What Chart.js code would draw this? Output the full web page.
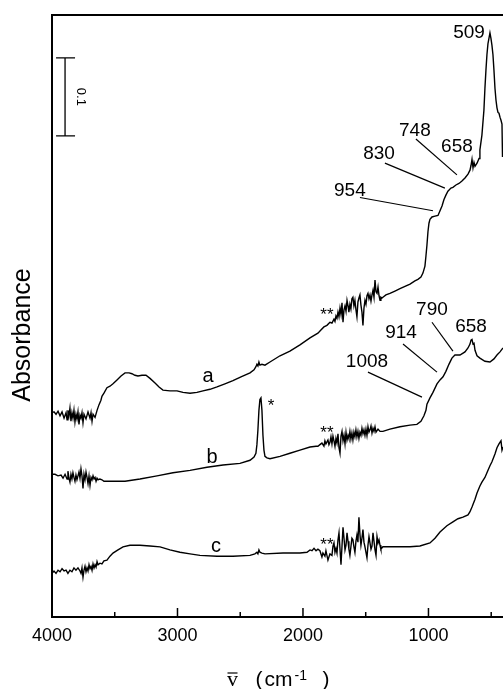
<!DOCTYPE html>
<html>
<head>
<meta charset="utf-8">
<script src="https://cdn.jsdelivr.net/npm/chart.js@4.4.1/dist/chart.umd.min.js"></script>
<style>
  html, body { margin: 0; padding: 0; background: #fff; }
</style>
</head>
<body>
<canvas id="grafico" width="503" height="689"></canvas>
<script>
// Eixo x: número de onda (cm-1), escala invertida
const xTicks = [4000, 3500, 3000, 2500, 2000, 1500, 1000, 500];
const xTickLabels = ['4000', '', '3000', '', '2000', '', '1000', ''];

// Espectro a
const waveA = [4000,3984,3968,3952,3936,3920,3904,3888,3880,3873,3865,3857,3849,3841,3833,3825,3817,3809,3801,3793,3785,3777,3769,3761,3753,3745,3729,3713,3697,3689,3681,3673,3657,3641,3626,3610,3602,3586,3562,3538,3514,3482,3450,3418,3386,3363,3339,3315,3283,3251,3219,3179,3147,3116,3060,3004,2956,2900,2845,2797,2741,2685,2622,2558,2494,2422,2390,2375,2367,2359,2351,2343,2327,2303,2263,2183,2104,2024,1944,1881,1857,1833,1809,1785,1769,1753,1745,1737,1729,1721,1713,1705,1697,1689,1681,1673,1665,1657,1649,1641,1634,1626,1618,1610,1602,1594,1586,1578,1570,1562,1554,1546,1538,1530,1522,1514,1506,1498,1490,1482,1474,1466,1458,1450,1442,1434,1426,1418,1410,1402,1394,1386,1379,1371,1363,1339,1307,1267,1227,1187,1147,1108,1084,1060,1044,1028,1020,1012,1004,996,988,972,948,924,908,892,877,861,845,821,805,781,757,733,709,685,669,661,653,645,637,629,613,597,590,574,558,550,542,534,526,518,510,502,494,486,478,470,462,454,446,438,430,422,414,410];
const absA = [.262,.263,.260,.264,.258,.263,.255,.262,.253,.265,.258,.268,.251,.262,.255,.265,.250,.260,.254,.263,.247,.259,.255,.262,.249,.260,.254,.263,.255,.262,.251,.260,.256,.265,.272,.278,.283,.287,.294,.296,.299,.304,.309,.313,.313,.312,.310,.309,.310,.310,.306,.300,.295,.291,.290,.290,.288,.287,.288,.290,.292,.295,.299,.303,.308,.313,.317,.321,.324,.322,.327,.323,.324,.323,.327,.335,.341,.349,.358,.364,.368,.372,.374,.378,.377,.382,.379,.386,.383,.391,.385,.396,.388,.403,.378,.394,.399,.392,.406,.399,.391,.401,.395,.408,.410,.399,.406,.394,.385,.404,.409,.413,.400,.391,.374,.396,.406,.401,.412,.415,.408,.413,.405,.413,.419,.410,.432,.417,.415,.423,.412,.406,.410,.409,.410,.413,.415,.418,.421,.424,.427,.431,.433,.436,.441,.450,.463,.477,.494,.505,.510,.513,.514,.515,.521,.527,.535,.541,.546,.550,.551,.554,.556,.559,.563,.568,.573,.579,.587,.576,.583,.578,.582,.588,.599,.618,.650,.678,.701,.721,.735,.742,.749,.742,.733,.721,.701,.678,.663,.653,.647,.646,.641,.637,.632,.590];

// Espectro b
const waveB = [4000,3976,3952,3928,3912,3896,3880,3873,3865,3857,3849,3841,3833,3825,3817,3809,3801,3793,3785,3777,3769,3761,3753,3745,3737,3729,3721,3713,3705,3697,3689,3681,3673,3665,3657,3649,3641,3633,3618,3602,3586,3562,3498,3418,3299,3163,3036,2900,2765,2637,2502,2422,2390,2375,2367,2359,2351,2343,2335,2327,2319,2311,2303,2287,2263,2183,2104,2024,1944,1896,1881,1865,1849,1833,1825,1817,1801,1793,1785,1777,1769,1761,1753,1745,1737,1729,1721,1713,1705,1697,1689,1681,1673,1665,1657,1649,1641,1634,1626,1618,1610,1602,1594,1586,1578,1570,1562,1554,1546,1538,1530,1522,1514,1506,1498,1490,1482,1474,1466,1458,1450,1442,1434,1426,1418,1402,1386,1363,1307,1227,1147,1092,1060,1036,1020,1012,988,964,932,908,884,861,837,813,789,749,709,685,669,661,653,645,637,629,613,590,550,510,478,454,430,406];
const absB = [.183,.183,.181,.182,.178,.183,.177,.187,.178,.173,.183,.177,.185,.179,.174,.182,.176,.181,.186,.178,.190,.181,.165,.183,.176,.186,.179,.171,.181,.169,.179,.176,.181,.177,.179,.174,.178,.176,.177,.176,.174,.174,.174,.174,.177,.181,.185,.188,.192,.195,.197,.201,.205,.210,.221,.240,.265,.279,.281,.265,.233,.214,.206,.204,.203,.206,.210,.214,.218,.219,.219,.221,.223,.219,.226,.222,.227,.221,.224,.231,.222,.232,.226,.219,.229,.223,.235,.217,.210,.232,.238,.226,.233,.222,.237,.227,.233,.229,.238,.228,.236,.227,.237,.231,.240,.231,.238,.229,.237,.233,.242,.235,.240,.233,.241,.233,.244,.237,.240,.245,.236,.242,.238,.244,.237,.241,.238,.238,.241,.244,.246,.247,.251,.258,.265,.273,.281,.288,.299,.304,.308,.315,.324,.332,.336,.336,.340,.345,.350,.355,.356,.350,.351,.342,.335,.332,.328,.327,.331,.336,.340,.345];

// Espectro c
const waveC = [4000,3984,3968,3952,3936,3920,3904,3888,3873,3857,3841,3825,3809,3793,3777,3769,3761,3753,3745,3737,3729,3721,3713,3705,3697,3689,3681,3673,3665,3657,3649,3641,3633,3618,3602,3586,3562,3538,3514,3474,3434,3379,3299,3219,3139,3060,2980,2900,2821,2685,2558,2422,2383,2367,2359,2351,2343,2327,2303,2159,2024,1968,1944,1928,1912,1896,1881,1865,1849,1841,1825,1817,1801,1785,1769,1761,1753,1745,1737,1729,1721,1713,1705,1697,1689,1681,1673,1665,1657,1649,1641,1634,1626,1618,1610,1602,1594,1586,1578,1570,1562,1554,1546,1538,1530,1522,1514,1506,1498,1490,1482,1474,1466,1458,1450,1442,1434,1426,1418,1410,1402,1394,1386,1379,1363,1307,1227,1147,1068,988,948,908,853,805,765,725,685,669,653,629,613,590,574,550,534,510,494,470,454,438,422,414,406];
const absC = [.056,.059,.056,.060,.058,.062,.059,.060,.056,.060,.058,.063,.060,.063,.059,.056,.063,.051,.060,.065,.058,.063,.059,.067,.062,.065,.060,.068,.063,.067,.064,.071,.067,.069,.068,.072,.073,.078,.082,.086,.090,.092,.092,.091,.090,.086,.083,.081,.079,.078,.078,.079,.081,.083,.081,.086,.083,.082,.081,.082,.082,.083,.086,.085,.088,.085,.087,.085,.077,.082,.078,.085,.073,.081,.079,.091,.095,.083,.088,.082,.099,.108,.087,.067,.091,.115,.101,.086,.092,.108,.097,.087,.079,.090,.101,.099,.090,.083,.097,.105,.096,.128,.106,.092,.101,.112,.096,.090,.083,.076,.092,.103,.095,.087,.091,.108,.097,.086,.079,.103,.095,.099,.092,.087,.090,.090,.090,.090,.091,.095,.101,.109,.117,.122,.126,.128,.131,.135,.141,.151,.159,.168,.173,.179,.185,.194,.199,.209,.217,.222,.226,.214,.218];

// Rótulos dos picos: texto, posição do texto e linha guia (número de onda, absorbância)
const peakLabels = [
    { text: '509',  at: [677, 0.749] },
    { text: '748',  at: [1108, 0.624], line: [1100, 0.613, 773, 0.567] },
    { text: '658',  at: [773, 0.603] },
    { text: '830',  at: [1394, 0.594], line: [1347, 0.582, 869, 0.550] },
    { text: '954',  at: [1626, 0.547], line: [1546, 0.538, 964, 0.521] },
    { text: '790',  at: [972, 0.394],  line: [972, 0.378, 805, 0.341] },
    { text: '658',  at: [661, 0.372] },
    { text: '914',  at: [1219, 0.365], line: [1203, 0.350, 932, 0.314] },
    { text: '1008', at: [1490, 0.327], line: [1482, 0.314, 1052, 0.282] }
];
const curveLabels = [
    { text: 'a', at: [2757, 0.309] },
    { text: 'b', at: [2725, 0.204] },
    { text: 'c', at: [2693, 0.091] }
];
const starLabels = [
    { text: '*',  at: [2255, 0.277] },
    { text: '**', at: [1809, 0.394] },
    { text: '**', at: [1809, 0.242] },
    { text: '**', at: [1809, 0.099] }
];
// Barra de escala de 0,1 de absorbância
const scaleBar = { wave: 3896, from: 0.617, to: 0.717, text: '0.1' };

const sans = '"Liberation Sans", Arial, sans-serif';

function toPoints(wave, abs) {
    return wave.map((w, i) => ({ x: w, y: abs[i] }));
}

// Desenha moldura, marcas internas, rótulos e títulos
const extras = {
    id: 'extras',
    afterDraw(chart) {
        const ctx = chart.ctx;
        const x = chart.scales.x;
        const y = chart.scales.y;
        const area = chart.chartArea;
        ctx.save();
        ctx.strokeStyle = '#000';
        ctx.fillStyle = '#000';

        // linha superior
        ctx.lineWidth = 2;
        ctx.beginPath();
        ctx.moveTo(area.left - 1, area.top);
        ctx.lineTo(area.right, area.top);
        ctx.stroke();

        // marcas do eixo x para dentro
        ctx.lineWidth = 1.5;
        xTicks.forEach((v, i) => {
            const px = x.getPixelForValue(v);
            const len = xTickLabels[i] ? 9 : 5;
            ctx.beginPath();
            ctx.moveTo(px, area.bottom);
            ctx.lineTo(px, area.bottom - len);
            ctx.stroke();
        });

        // barra de escala
        const bx = x.getPixelForValue(scaleBar.wave);
        const by1 = y.getPixelForValue(scaleBar.to);
        const by2 = y.getPixelForValue(scaleBar.from);
        ctx.lineWidth = 1.3;
        ctx.beginPath();
        ctx.moveTo(bx, by1); ctx.lineTo(bx, by2);
        ctx.moveTo(bx - 9, by1); ctx.lineTo(bx + 10, by1);
        ctx.moveTo(bx - 9, by2); ctx.lineTo(bx + 10, by2);
        ctx.stroke();
        ctx.save();
        ctx.translate(bx + 16, (by1 + by2) / 2);
        ctx.rotate(Math.PI / 2);
        ctx.font = '13px ' + sans;
        ctx.textAlign = 'center';
        ctx.textBaseline = 'middle';
        ctx.fillText(scaleBar.text, 0, 0);
        ctx.restore();

        // rótulos dos picos e linhas guia
        ctx.lineWidth = 1.2;
        ctx.textAlign = 'center';
        ctx.textBaseline = 'middle';
        ctx.font = '19px ' + sans;
        peakLabels.forEach(p => {
            ctx.fillText(p.text, x.getPixelForValue(p.at[0]), y.getPixelForValue(p.at[1]));
            if (p.line) {
                ctx.beginPath();
                ctx.moveTo(x.getPixelForValue(p.line[0]), y.getPixelForValue(p.line[1]));
                ctx.lineTo(x.getPixelForValue(p.line[2]), y.getPixelForValue(p.line[3]));
                ctx.stroke();
            }
        });
        ctx.font = '20px ' + sans;
        curveLabels.forEach(p => {
            ctx.fillText(p.text, x.getPixelForValue(p.at[0]), y.getPixelForValue(p.at[1]));
        });
        ctx.font = '17px ' + sans;
        ctx.textBaseline = 'alphabetic';
        starLabels.forEach(p => {
            ctx.fillText(p.text, x.getPixelForValue(p.at[0]), y.getPixelForValue(p.at[1]) + 10);
        });

        // título do eixo y
        ctx.save();
        ctx.translate(23, (area.top + area.bottom) / 2 + 19);
        ctx.rotate(-Math.PI / 2);
        ctx.font = '25px ' + sans;
        ctx.textBaseline = 'middle';
        ctx.fillText('Absorbance', 0, 0);
        ctx.restore();

        // título do eixo x:  v̄ (cm-1 )
        const cx = (area.left + area.right) / 2;
        const base = 686;
        ctx.textAlign = 'center';
        ctx.font = '22px "Liberation Serif", "Times New Roman", serif';
        ctx.fillText('v', cx - 45, base);
        ctx.lineWidth = 1.2;
        ctx.beginPath();
        ctx.moveTo(cx - 50, 673); ctx.lineTo(cx - 40, 673);
        ctx.stroke();
        ctx.textAlign = 'left';
        ctx.font = '21px ' + sans;
        ctx.fillText('(', cx - 22, base);
        ctx.fillText('cm', cx - 13, base);
        ctx.fillText(')', cx + 45, base);
        ctx.font = '14px ' + sans;
        ctx.fillText('-1', cx + 17, 680);
        ctx.restore();
    }
};

const lineStyle = {
    borderColor: '#000',
    borderWidth: 1.4,
    pointRadius: 0,
    tension: 0,
    fill: false
};

const ctx = document.getElementById('grafico');
const spectrum = new Chart(ctx, {
    type: 'line',
    data: {
        datasets: [
            { label: 'a', data: toPoints(waveA, absA), ...lineStyle },
            { label: 'b', data: toPoints(waveB, absB), ...lineStyle },
            { label: 'c', data: toPoints(waveC, absC), ...lineStyle }
        ]
    },
    options: {
        responsive: false,
        animation: false,
        layout: { padding: { top: 15, right: 0, left: 0, bottom: 0 } },
        plugins: {
            legend: { display: false },
            tooltip: { enabled: false }
        },
        scales: {
            x: {
                type: 'linear',
                reverse: true,
                min: 406,
                max: 4000,
                grid: { display: false, drawTicks: false },
                border: { display: true, color: '#000', width: 2 },
                ticks: {
                    color: '#000',
                    font: { size: 18, family: sans },
                    padding: 8,
                    maxRotation: 0,
                    autoSkip: false,
                    callback: (value, index) => xTickLabels[index]
                },
                afterBuildTicks: axis => { axis.ticks = xTicks.map(v => ({ value: v })); },
                afterFit: axis => { axis.height = 72; }
            },
            y: {
                min: 0,
                max: 0.772,
                grid: { display: false, drawTicks: false },
                border: { display: true, color: '#000', width: 2 },
                ticks: { display: false },
                afterFit: axis => { axis.width = 52; }
            }
        }
    },
    plugins: [extras]
});
</script>
</body>
</html>
